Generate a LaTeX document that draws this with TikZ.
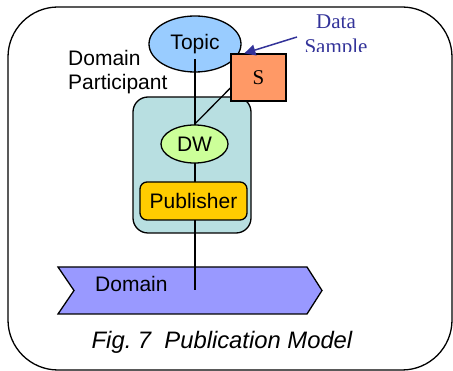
\documentclass[tikz,border=0pt]{standalone}
\usepackage{fontspec}
\setmainfont{Liberation Serif}
\setsansfont{Liberation Sans}
\usetikzlibrary{arrows.meta,shapes.geometric}

\pgfdeclarelayer{back}
\pgfdeclarelayer{wires}
\pgfsetlayers{back,wires,main}

\definecolor{topicblue}{HTML}{99CCFF}
\definecolor{samplered}{HTML}{FF9966}
\definecolor{participantteal}{HTML}{B8DFE1}
\definecolor{writergreen}{HTML}{CCFF99}
\definecolor{publisheryellow}{HTML}{FFCC00}
\definecolor{domainviolet}{HTML}{9999FF}
\definecolor{noteblue}{HTML}{333399}

\tikzset{
  outline/.style={draw=black, line width=1.3pt},
  sanslabel/.style={font=\sffamily\fontsize{21}{24}\selectfont, inner sep=0pt},
  entity/.style={outline, ellipse, sanslabel},
  wire/.style={draw=black, line width=1.3pt}
}

\begin{document}
\begin{tikzpicture}[x=1pt,y=-1pt]
  \useasboundingbox (0,0) rectangle (453,371);

  %Frame
  \draw[outline, rounded corners=50pt] (8,7) rectangle (452,370);

  \begin{pgfonlayer}{back}
    %Domain
    \draw[outline, fill=domainviolet] (58,267) -- (307,267) -- (322,290.5)
      -- (307,314) -- (58,314) -- (74,290.5) -- cycle;
    \node[sanslabel, anchor=base west] (domain) at (95,292) {Domain};
    \coordinate (domainjoin) at (195,290);

    %Domain Participant
    \node[outline, fill=participantteal, rounded corners=15pt,
          minimum width=118pt, minimum height=136pt] (participant) at (192,165) {};
    \node[sanslabel, anchor=north west, align=left] (participantlabel) at (68,50)
      {Domain\\Participant};

    %Topic
    \node[entity, fill=topicblue, minimum width=92pt, minimum height=56pt] (topic)
      at (195,44) {Topic};
    \coordinate (topicfoot) at (195,59);
  \end{pgfonlayer}

  %DataWriter
  \node[entity, fill=writergreen, minimum width=67pt, minimum height=38pt] (dw)
    at (194.5,144) {DW};

  %Publisher
  \node[outline, sanslabel, fill=publisheryellow, rounded corners=7pt,
        minimum width=107pt, minimum height=38pt] (publisher) at (193.5,201) {Publisher};

  %Data Sample
  \node[outline, fill=samplered, minimum width=55pt, minimum height=47pt,
        font=\fontsize{21}{24}\selectfont] (sample) at (258.5,77.5) {S};
  \begin{scope}
    \clip (290,0) rectangle (400,52);
    \node[text=noteblue, anchor=north, align=center, inner sep=0pt,
          font=\fontsize{21}{25}\selectfont] (samplenote) at (336,15) {Data\\Sample};
  \end{scope}
  \draw[noteblue, line width=1.5pt, -{Triangle[length=11pt,width=11pt]}]
    (297,37) -- ([xshift=14pt]sample.north west);

  \begin{pgfonlayer}{wires}
    \draw[wire] (topicfoot) -- (domainjoin);
    \draw[wire] ([yshift=-10.5pt]sample.west) -- (dw.north);
  \end{pgfonlayer}

  %Caption
  \node[font=\sffamily\itshape\fontsize{23.8}{27}\selectfont, anchor=base, inner sep=0pt]
    (caption) at (222,349) {Fig.\ 7\ \ Publication Model};
\end{tikzpicture}
\end{document}
